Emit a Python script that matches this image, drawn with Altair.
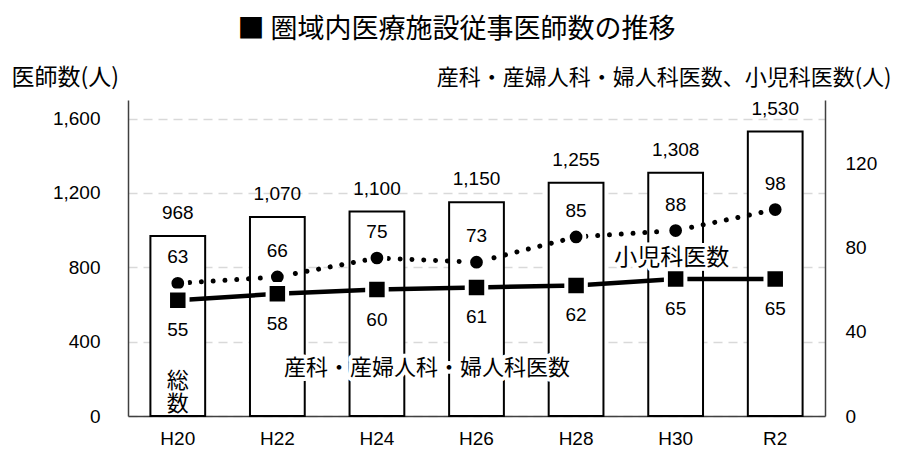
import altair as alt
import pandas as pd

# ---- data ----
years = ["H20", "H22", "H24", "H26", "H28", "H30", "R2"]
total = [968, 1070, 1100, 1150, 1255, 1308, 1530]
pediatrics = [63, 66, 75, 73, 85, 88, 98]
obgyn = [55, 58, 60, 61, 62, 65, 65]
left_ticks = [0, 400, 800, 1200, 1600]
right_ticks = [0, 40, 80, 120]

title_text = "■ 圏域内医療施設従事医師数の推移"
left_title = "医師数(人)"
right_title = "産科・産婦人科・婦人科医数、小児科医数(人)"
ann_text = ["小児科医数", "産科・産婦人科・婦人科医数", "総\n数"]
ann_year = ["H30", "H24", "H20"]
ann_value = [75, 22.7, 16.5]   # anchor in right-axis units

df = pd.DataFrame({"year": years, "total": total, "ped": pediatrics, "ob": obgyn})
df["total_label"] = [f"{v:,}" for v in total]

JP = "Noto Sans CJK JP"
NUM = "Liberation Sans"

x_enc = alt.X(
    "year:N", sort=years,
    scale=alt.Scale(paddingInner=0.45, paddingOuter=0.225),
    axis=alt.Axis(title=None, labelAngle=0, labelFont=NUM, labelFontSize=19,
                  labelColor="black", labelPadding=13, ticks=False, tickSize=0,
                  domainColor="#404040", domainWidth=1.5, grid=False),
)

left_scale = alt.Scale(domain=[0, 1700], nice=False, zero=True)
right_scale = alt.Scale(domain=[0, 150], nice=False, zero=True)

base = alt.Chart(df)

bars = base.mark_bar(fill="white", stroke="black", strokeWidth=2).encode(
    x=x_enc,
    y=alt.Y("total:Q", scale=left_scale, axis=alt.Axis(
        orient="left", values=left_ticks, format=",d", title=left_title, titleAngle=0,
        titleAlign="left", titleBaseline="middle", titleX=-117, titleY=-23,
        titleFont=JP, titleFontSize=23, titleFontWeight="normal", titleColor="black",
        labelFont=NUM, labelFontSize=19, labelColor="black", labelPadding=28,
        ticks=False, tickSize=0, domainColor="#404040", domainWidth=1.5,
        grid=True, gridColor="#d9d9d9", gridDash=[9, 6], gridWidth=1.5)),
)
bar_labels = base.mark_text(font=NUM, fontSize=19, baseline="middle", dy=-23,
                            color="black").encode(
    x=x_enc,
    y=alt.Y("total:Q", scale=left_scale, axis=None),
    text="total_label:N",
)

ped_line = base.mark_line(color="black", strokeWidth=5, strokeDash=[0.01, 11.8],
                          strokeCap="round").encode(
    x=x_enc,
    y=alt.Y("ped:Q", scale=right_scale, axis=alt.Axis(
        orient="right", values=right_ticks, format="d", title=right_title, titleAngle=0,
        titleAlign="right", titleBaseline="middle", titleX=66, titleY=-23,
        titleFont=JP, titleFontSize=22, titleFontWeight="normal", titleColor="black",
        labelFont=NUM, labelFontSize=19, labelColor="black", labelPadding=20,
        ticks=False, tickSize=0, domainColor="#404040", domainWidth=1.5, grid=False)),
)
ob_line = base.mark_line(color="black", strokeWidth=4.5).encode(
    x=x_enc, y=alt.Y("ob:Q", scale=right_scale, axis=None))
ped_pts = base.mark_point(shape="circle", filled=True, fill="black", stroke="white",
                          strokeWidth=4, size=280, opacity=1, fillOpacity=1,
                          strokeOpacity=1).encode(
    x=x_enc, y=alt.Y("ped:Q", scale=right_scale, axis=None))
ob_pts = base.mark_point(shape="square", filled=True, fill="black", stroke="white",
                         strokeWidth=4, size=380, opacity=1, fillOpacity=1,
                         strokeOpacity=1).encode(
    x=x_enc, y=alt.Y("ob:Q", scale=right_scale, axis=None))
ped_labels = base.mark_text(font=NUM, fontSize=19, baseline="middle", dy=-26,
                            color="black").encode(
    x=x_enc, y=alt.Y("ped:Q", scale=right_scale, axis=None), text="ped:Q")
ob_labels = base.mark_text(font=NUM, fontSize=19, baseline="middle", dy=30,
                           color="black").encode(
    x=x_enc, y=alt.Y("ob:Q", scale=right_scale, axis=None), text="ob:Q")


def annotation(i, dx=0, size=22, halo=True, **kw):
    d = pd.DataFrame({"year": [ann_year[i]], "v": [ann_value[i]], "t": [ann_text[i]]})
    enc = dict(x=x_enc, y=alt.Y("v:Q", scale=right_scale, axis=None), text="t:N")
    layers = []
    if halo:
        layers.append(alt.Chart(d).mark_text(
            font=JP, fontSize=size, fill="white", stroke="white", strokeWidth=8,
            strokeJoin="round", baseline="middle", dx=dx, **kw).encode(**enc))
    layers.append(alt.Chart(d).mark_text(
        font=JP, fontSize=size, fill="black", baseline="middle", dx=dx, **kw
    ).encode(**enc))
    return layers


anns = (annotation(0, dx=-4, size=23)
        + annotation(1, dx=50)
        + annotation(2, halo=False, lineBreak="\n", lineHeight=23))

chart = alt.layer(
    bars, bar_labels, ped_line, *anns, ob_line, ped_pts, ob_pts, ped_labels, ob_labels
).resolve_scale(y="independent").properties(
    width=697, height=316,
    title=alt.TitleParams(title_text, font=JP, fontSize=27, fontWeight="normal",
                          color="black", anchor="middle", dx=-20, dy=-18),
    autosize=alt.AutoSizeParams(type="none"),
    padding={"left": 120, "top": 92, "right": 68, "bottom": 36},
    background="white",
).configure_view(strokeWidth=0)

chart.save("out.html", embed_options={"renderer": "svg", "actions": False})
